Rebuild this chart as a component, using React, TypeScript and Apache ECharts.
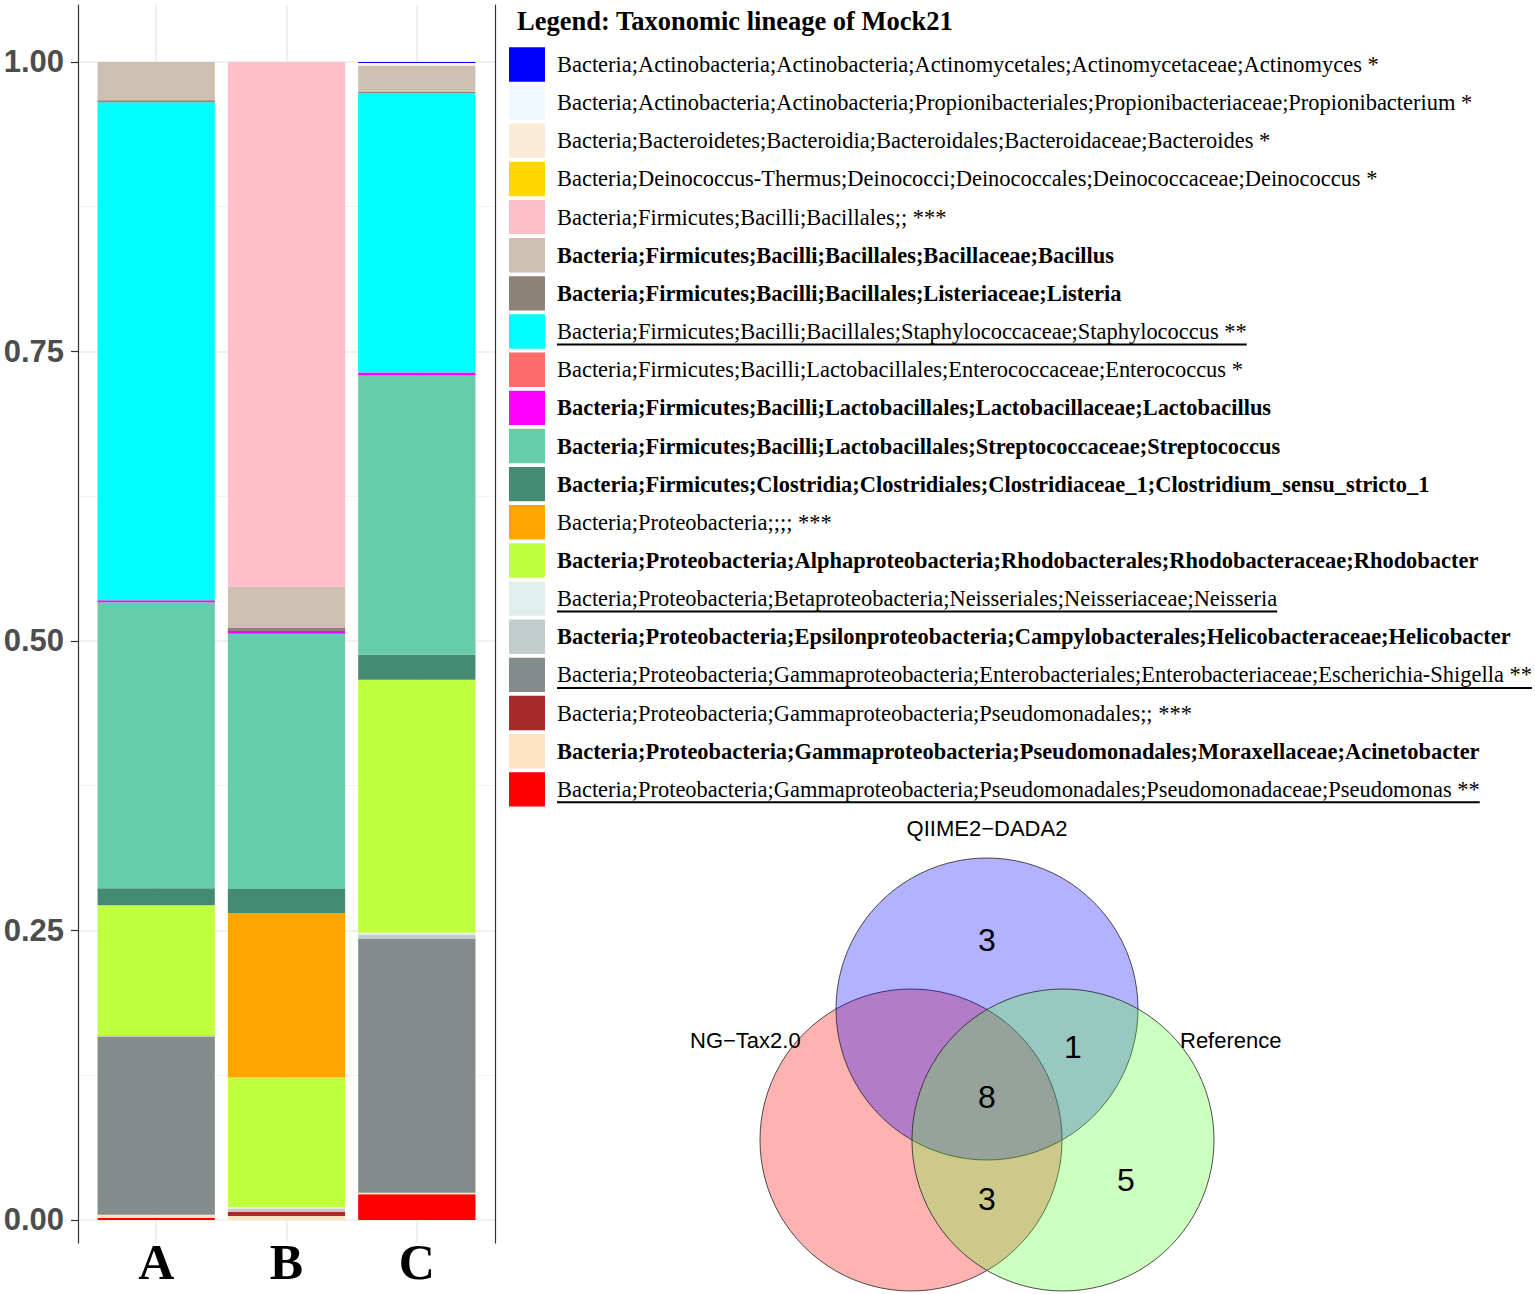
import React, { useEffect, useRef } from "react";
import * as echarts from "echarts";

// ---------- data ----------
const samples = ["A", "B", "C"];

const taxa = [
  "Bacteria;Actinobacteria;Actinobacteria;Actinomycetales;Actinomycetaceae;Actinomyces *",
  "Bacteria;Actinobacteria;Actinobacteria;Propionibacteriales;Propionibacteriaceae;Propionibacterium *",
  "Bacteria;Bacteroidetes;Bacteroidia;Bacteroidales;Bacteroidaceae;Bacteroides *",
  "Bacteria;Deinococcus-Thermus;Deinococci;Deinococcales;Deinococcaceae;Deinococcus *",
  "Bacteria;Firmicutes;Bacilli;Bacillales;; ***",
  "Bacteria;Firmicutes;Bacilli;Bacillales;Bacillaceae;Bacillus",
  "Bacteria;Firmicutes;Bacilli;Bacillales;Listeriaceae;Listeria",
  "Bacteria;Firmicutes;Bacilli;Bacillales;Staphylococcaceae;Staphylococcus **",
  "Bacteria;Firmicutes;Bacilli;Lactobacillales;Enterococcaceae;Enterococcus *",
  "Bacteria;Firmicutes;Bacilli;Lactobacillales;Lactobacillaceae;Lactobacillus",
  "Bacteria;Firmicutes;Bacilli;Lactobacillales;Streptococcaceae;Streptococcus",
  "Bacteria;Firmicutes;Clostridia;Clostridiales;Clostridiaceae_1;Clostridium_sensu_stricto_1",
  "Bacteria;Proteobacteria;;;; ***",
  "Bacteria;Proteobacteria;Alphaproteobacteria;Rhodobacterales;Rhodobacteraceae;Rhodobacter",
  "Bacteria;Proteobacteria;Betaproteobacteria;Neisseriales;Neisseriaceae;Neisseria",
  "Bacteria;Proteobacteria;Epsilonproteobacteria;Campylobacterales;Helicobacteraceae;Helicobacter",
  "Bacteria;Proteobacteria;Gammaproteobacteria;Enterobacteriales;Enterobacteriaceae;Escherichia-Shigella **",
  "Bacteria;Proteobacteria;Gammaproteobacteria;Pseudomonadales;; ***",
  "Bacteria;Proteobacteria;Gammaproteobacteria;Pseudomonadales;Moraxellaceae;Acinetobacter",
  "Bacteria;Proteobacteria;Gammaproteobacteria;Pseudomonadales;Pseudomonadaceae;Pseudomonas **",
];

// relative abundance per sample, in legend order
const valuesA = [0, 0, 0, 0, 0, 0.033, 0.0017, 0.43, 0, 0.0017, 0.247, 0.0147, 0, 0.112, 0, 0.0013, 0.154, 0, 0.0025, 0.002];
const valuesB = [0, 0, 0, 0, 0.4535, 0.0354, 0.0026, 0, 0, 0.0022, 0.2206, 0.0207, 0.142, 0.112, 0.0012, 0.0025, 0.0005, 0.0033, 0.0035, 0];
const valuesC = [0.0008, 0.0014, 0.001, 0, 0, 0.0225, 0.0014, 0.241, 0, 0.0026, 0.2412, 0.0216, 0, 0.2185, 0.002, 0.003, 0.2196, 0, 0.0012, 0.0222];

const yTicks = [0, 0.25, 0.5, 0.75, 1];
const yMinorTicks = [0.125, 0.375, 0.625, 0.875];

const legendTitle = "Legend: Taxonomic lineage of Mock21";

const vennSetNames = ["QIIME2\u2212DADA2", "NG\u2212Tax2.0", "Reference"];
// counts: QIIME2 only, QIIME2∩Reference, all three, NG-Tax∩Reference, Reference only
const vennCounts = [3, 1, 8, 3, 5];

// ---------- styles ----------
const taxaColors = [
  "#0000FF", "#F0F8FF", "#FAEBD7", "#FFD700", "#FFC0CB", "#CDC0B0", "#8B8378",
  "#00FFFF", "#FF6A6A", "#FF00FF", "#66CDAA", "#458B74", "#FFA500", "#C0FF3E",
  "#E0EEEE", "#C1CDCD", "#838B8B", "#A52A2A", "#FFE4C4", "#FF0000",
];
const taxaBold = [5, 6, 9, 10, 11, 13, 15, 18];
const taxaUnderline = [7, 14, 16, 19];

const LEGEND_FONT = 22.45;

function textWidth(t: string, font: string) {
  const c = document.createElement("canvas").getContext("2d");
  if (!c) return t.length * 10;
  c.font = font;
  return c.measureText(t).width;
}

export default function App() {
  const ref = useRef<HTMLDivElement>(null);

  useEffect(() => {
    if (!ref.current) return;
    const chart = echarts.init(ref.current, null, { renderer: "svg" });
    const sampleValues = [valuesA, valuesB, valuesC];

    const order = taxa.map((_, i) => i).reverse(); // bottom of stack first
    const series: any[] = order.map((i) => ({
      type: "bar",
      name: taxa[i],
      stack: "total",
      barWidth: "90%",
      silent: true,
      xAxisIndex: 1,
      yAxisIndex: 2,
      itemStyle: { color: taxaColors[i] },
      data: samples.map((_, k) => sampleValues[k][i]),
    }));

    // legend drawn as graphic
    const graphics: any[] = [];
    graphics.push({
      type: "text",
      x: 517,
      y: 21,
      style: {
        text: legendTitle,
        fontFamily: "Liberation Serif",
        fontWeight: "bold",
        fontSize: 26.5,
        fill: "#000",
        align: "left",
        verticalAlign: "middle",
      },
    });
    const itemTop = 47.3;
    const itemStep = 38.15;
    taxa.forEach((name, i) => {
      const cy = itemTop + 17.2 + i * itemStep;
      const bold = taxaBold.includes(i);
      graphics.push({
        type: "rect",
        shape: { x: 509, y: itemTop + i * itemStep, width: 36, height: 34.4 },
        style: { fill: taxaColors[i] },
      });
      graphics.push({
        type: "text",
        x: 557,
        y: cy,
        style: {
          text: name,
          fontFamily: "Liberation Serif",
          fontWeight: bold ? "bold" : "normal",
          fontSize: LEGEND_FONT,
          fill: "#000",
          align: "left",
          verticalAlign: "middle",
        },
      });
      if (taxaUnderline.includes(i)) {
        const w = textWidth(name, `${bold ? "bold " : ""}${LEGEND_FONT}px "Liberation Serif"`);
        graphics.push({
          type: "line",
          shape: { x1: 557, y1: cy + 13, x2: 557 + w, y2: cy + 13 },
          style: { stroke: "#000", lineWidth: 2 },
        });
      }
    });

    // Venn diagram
    const R = 151;
    const circles = [
      { cx: 911, cy: 1140, fill: "rgba(255,0,0,0.3)" },
      { cx: 987, cy: 1009, fill: "rgba(0,0,255,0.3)" },
      { cx: 1063, cy: 1140, fill: "rgba(88,255,45,0.3)" },
    ];
    circles.forEach((c) => {
      graphics.push({
        type: "circle",
        shape: { cx: c.cx, cy: c.cy, r: R },
        style: { fill: c.fill, stroke: "#222", lineWidth: 0.8 },
      });
    });
    const setLabelPos = [
      [987, 828, "center"],
      [690, 1040, "left"],
      [1180, 1040, "left"],
    ];
    vennSetNames.forEach((n, i) => {
      graphics.push({
        type: "text",
        x: setLabelPos[i][0],
        y: setLabelPos[i][1],
        style: {
          text: n,
          fontFamily: "Liberation Sans",
          fontSize: 22,
          fill: "#000",
          align: setLabelPos[i][2],
          verticalAlign: "middle",
        },
      });
    });
    const countPos = [
      [987, 940],
      [1073, 1047],
      [987, 1097],
      [987, 1199],
      [1126, 1180],
    ];
    vennCounts.forEach((v, i) => {
      graphics.push({
        type: "text",
        x: countPos[i][0],
        y: countPos[i][1],
        style: {
          text: String(v),
          fontFamily: "Liberation Sans",
          fontSize: 32,
          fill: "#000",
          align: "center",
          verticalAlign: "middle",
        },
      });
    });

    const yMin = -0.0199;
    const yMax = 1.0492;
    // background panel spans 0.4..3.6 in category units; bars' grid spans 0.5..3.5
    const panelLeft = 78;
    const panelWidth = 417;
    const unit = panelWidth / 3.2;

    chart.setOption({
      animation: false,
      backgroundColor: "#fff",
      grid: [
        { left: panelLeft, top: 5, width: panelWidth, height: 1238, containLabel: false },
        { left: panelLeft + 0.1 * unit, top: 5, width: 3 * unit, height: 1238, containLabel: false },
      ],
      xAxis: [
        {
          type: "value",
          gridIndex: 0,
          min: 0.4,
          max: 3.6,
          axisLine: { show: false },
          axisTick: { show: false, customValues: [1, 2, 3] },
          axisLabel: { show: false, customValues: [1, 2, 3] },
          splitLine: { show: true, lineStyle: { color: "#EBEBEB", width: 1.6 } },
        },
        {
          type: "category",
          gridIndex: 1,
          data: samples,
          axisLine: { show: false },
          axisTick: { show: false },
          splitLine: { show: false },
          axisLabel: {
            fontFamily: "Liberation Serif",
            fontWeight: "bold",
            fontSize: 50,
            lineHeight: 50,
            color: "#000",
            margin: -6,
          },
        },
      ],
      yAxis: [
        {
          type: "value",
          gridIndex: 0,
          min: yMin,
          max: yMax,
          axisLine: { show: true, lineStyle: { color: "#333", width: 1.2 } },
          axisTick: { show: true, length: 7, customValues: yTicks, lineStyle: { color: "#333", width: 1.2 } },
          axisLabel: {
            customValues: yTicks,
            formatter: (v: number) => v.toFixed(2),
            fontFamily: "Liberation Sans",
            fontWeight: "bold",
            fontSize: 31,
            color: "#4D4D4D",
            margin: 14,
          },
          splitLine: { show: true, lineStyle: { color: "#EBEBEB", width: 1.6 } },
        },
        {
          type: "value",
          gridIndex: 0,
          position: "right",
          min: yMin,
          max: yMax,
          axisLine: { show: true, onZero: false, lineStyle: { color: "#333", width: 1.2 } },
          axisTick: { show: false, customValues: yMinorTicks },
          axisLabel: { show: false, customValues: yMinorTicks },
          splitLine: { show: true, lineStyle: { color: "#F2F2F2", width: 0.9 } },
        },
        {
          type: "value",
          gridIndex: 1,
          min: yMin,
          max: yMax,
          axisLine: { show: false },
          axisTick: { show: false },
          axisLabel: { show: false },
          splitLine: { show: false },
        },
      ],
      series,
      graphic: graphics,
    });

    return () => chart.dispose();
  }, []);

  return (
    <div
      ref={ref}
      style={{ position: "absolute", left: 0, top: 0, width: 1535, height: 1294, background: "#fff" }}
    />
  );
}
